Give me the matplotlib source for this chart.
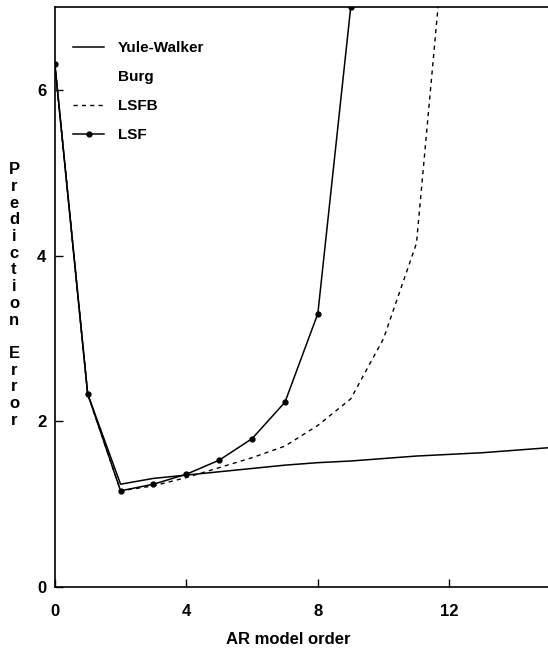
import matplotlib
matplotlib.use('Agg')
import matplotlib.pyplot as plt

# AR model order vs prediction error
order_lsf = [0, 1, 2, 3, 4, 5, 6, 7, 8, 9]
err_lsf = [6.32, 2.33, 1.16, 1.24, 1.36, 1.53, 1.79, 2.23, 3.30, 7.0]

order_lsfb = [0, 1, 2, 3, 4, 5, 6, 7, 8, 9, 10, 11, 12]
err_lsfb = [6.32, 2.33, 1.16, 1.22, 1.32, 1.44, 1.56, 1.70, 1.95, 2.27, 3.0, 4.15, 8.5]

order_yw = [0, 1, 2, 3, 4, 5, 6, 7, 8, 9, 10, 11, 12, 13, 14, 15]
err_yw = [6.32, 2.33, 1.24, 1.31, 1.35, 1.39, 1.43, 1.47, 1.50, 1.52, 1.55, 1.58, 1.60, 1.62, 1.65, 1.68]

xticks = [0, 4, 8, 12]
yticks = [0, 2, 4, 6]

plt.rcParams['font.family'] = ['Liberation Sans', 'DejaVu Sans']

fig = plt.figure(figsize=(5.48, 6.55), dpi=100)
ax = fig.add_axes([0.100, 0.104, 0.900, 0.885])

ax.plot(order_yw, err_yw, color='black', lw=1.1, label='Yule-Walker')
ax.plot([], [], ls='none', label='Burg')
ax.plot(order_lsfb, err_lsfb, color='black', lw=1.0, ls=(0, (3, 3)), label='LSFB')
ax.plot(order_lsf, err_lsf, color='black', lw=1.1, marker='o', ms=3.5, label='LSF')

ax.set_xlim(0, 15)
ax.set_ylim(0, 7)
ax.set_xticks(xticks)
ax.set_yticks(yticks)
ax.tick_params(direction='in', length=6, width=1, labelsize=12, pad=6)
ax.tick_params(axis='x', pad=12)
for lab in ax.get_xticklabels() + ax.get_yticklabels():
    lab.set_fontweight('bold')
ax.spines['right'].set_visible(False)
for s in ['left', 'top', 'bottom']:
    ax.spines[s].set_linewidth(1.2)

leg = ax.legend(loc='upper left', bbox_to_anchor=(0.01, 0.965), frameon=False,
                handlelength=2.0, handletextpad=0.9, labelspacing=0.98,
                prop={'size': 11, 'weight': 'bold'})

fig.text(288 / 548, 1 - 640 / 655, 'AR model order', ha='center', va='center',
         fontsize=12, fontweight='bold')
fig.text(14 / 548, 1 - 295 / 655, '\n'.join('Prediction Error'), ha='center',
         va='center', fontsize=12, fontweight='bold', linespacing=1.14)

fig.savefig('out.png', dpi=100)
